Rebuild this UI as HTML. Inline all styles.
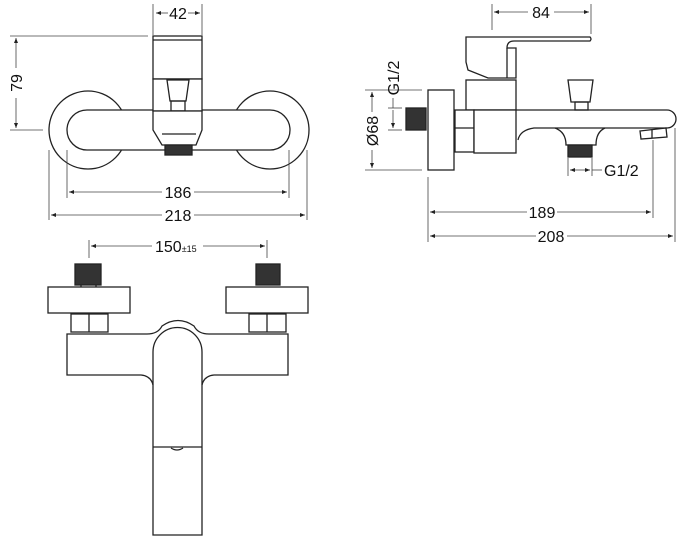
<!DOCTYPE html>
<html><head><style>
html,body{margin:0;padding:0;background:#fff;width:680px;height:543px;overflow:hidden}
svg{display:block}
text{font-family:"Liberation Sans",sans-serif;fill:#111}
</style></head><body>
<svg width="680" height="543" viewBox="0 0 680 543" xmlns="http://www.w3.org/2000/svg">
<defs>
<marker id="a" viewBox="0 0 10 10" refX="10" refY="5" markerWidth="7" markerHeight="5" orient="auto-start-reverse" markerUnits="userSpaceOnUse"><path d="M0,1 L10,5 L0,9 Z" fill="#222"/></marker>
</defs>
<g fill="none" stroke="#222" stroke-width="1.3">
<!-- ===== top-left view ===== -->
<circle cx="88" cy="130" r="39"/>
<circle cx="270" cy="130" r="39"/>
<rect x="67" y="110" width="223" height="40" rx="20" fill="#fff"/>
<rect x="153" y="36" width="49" height="43" fill="#fff"/>
<line x1="153" y1="40" x2="202" y2="40"/>
<rect x="153" y="79" width="49" height="32" fill="#fff"/>
<path d="M167,80 L189,80 L186,101 L170,101 Z"/>
<rect x="171" y="101" width="14" height="10"/>
<path d="M153,111 L202,111 L202,130 L196,145 L162,145 L153,130 Z" fill="#fff"/>
<path d="M162,134 L196,134"/>
<rect x="165" y="145" width="27" height="10" fill="#333"/>
</g>
<g stroke="#444" stroke-width="0.8" fill="none">
<line x1="153" y1="4" x2="153" y2="35"/><line x1="202" y1="4" x2="202" y2="35"/>
<line x1="156" y1="13" x2="168" y2="13" marker-start="url(#a)"/><line x1="188" y1="13" x2="200" y2="13" marker-end="url(#a)"/>
<line x1="10" y1="36" x2="148" y2="36"/><line x1="10" y1="130" x2="43" y2="130"/>
<line x1="16" y1="38" x2="16" y2="68" marker-start="url(#a)"/><line x1="16" y1="98" x2="16" y2="128" marker-end="url(#a)"/>
<line x1="67" y1="150" x2="67" y2="198"/><line x1="289" y1="150" x2="289" y2="198"/>
<line x1="69" y1="192" x2="162" y2="192" marker-start="url(#a)"/><line x1="194" y1="192" x2="287" y2="192" marker-end="url(#a)"/>
<line x1="49" y1="150" x2="49" y2="220"/><line x1="307" y1="150" x2="307" y2="220"/>
<line x1="51" y1="215" x2="162" y2="215" marker-start="url(#a)"/><line x1="194" y1="215" x2="305" y2="215" marker-end="url(#a)"/>
</g>
<text x="178" y="19" font-size="16" text-anchor="middle">42</text>
<text x="0" y="0" font-size="16" text-anchor="middle" transform="translate(22,83) rotate(-90)">79</text>
<text x="178" y="198" font-size="16" text-anchor="middle">186</text>
<text x="178" y="221" font-size="16" text-anchor="middle">218</text>

<!-- ===== right side view ===== -->
<g fill="none" stroke="#222" stroke-width="1.3">
<path d="M466,37 L590,37 Q592,39 590,41 L514,41 Q507,41 507,48 L516,48 L516,78 L488,78 L468,70 L466,62 Z" fill="#fff"/>
<line x1="507" y1="48" x2="507" y2="78"/>
<rect x="466" y="80" width="50" height="30" fill="#fff"/>
<rect x="428" y="90" width="26" height="80" fill="#fff"/>
<rect x="406" y="108" width="20" height="22" fill="#333"/>
<rect x="455" y="110" width="19" height="42" fill="#fff"/>
<line x1="455" y1="128" x2="474" y2="128"/>
<rect x="474" y="110" width="42" height="43" fill="#fff"/>
<path d="M516,110 L667,110 A9,9 0 0 1 667,128 L534,128 Q520,130 518,140"/>
<path d="M555,128 Q566,132 566,145 L596,145 Q596,132 605,128"/>
<path d="M568,80 L593,80 L590,102 L571,102 Z"/>
<rect x="575" y="102" width="13" height="8"/>
<rect x="568" y="145" width="24" height="12" fill="#333"/>
<path d="M640,131 L666,128 L667,137 L641,139 Z"/>
<line x1="652" y1="130" x2="652" y2="138"/>
</g>
<g stroke="#444" stroke-width="0.8" fill="none">
<line x1="492" y1="4" x2="492" y2="30"/><line x1="591" y1="4" x2="591" y2="34"/>
<line x1="494" y1="12" x2="528" y2="12" marker-start="url(#a)"/><line x1="554" y1="12" x2="589" y2="12" marker-end="url(#a)"/>
<line x1="365" y1="90" x2="422" y2="90"/><line x1="365" y1="170" x2="422" y2="170"/>
<line x1="372" y1="92" x2="372" y2="112" marker-start="url(#a)"/><line x1="372" y1="150" x2="372" y2="168" marker-end="url(#a)"/>
<line x1="388" y1="108" x2="402" y2="108"/><line x1="388" y1="130" x2="402" y2="130"/>
<line x1="393" y1="98" x2="393" y2="108"/><line x1="393" y1="110" x2="393" y2="128" marker-end="url(#a)"/>
<line x1="568" y1="158" x2="568" y2="176"/><line x1="592" y1="158" x2="592" y2="176"/>
<line x1="570" y1="170" x2="580" y2="170" marker-start="url(#a)"/><line x1="580" y1="170" x2="590" y2="170" marker-end="url(#a)"/><line x1="592" y1="170" x2="602" y2="170"/>
<line x1="428" y1="177" x2="428" y2="242"/><line x1="653" y1="140" x2="653" y2="218"/><line x1="675" y1="128" x2="675" y2="242"/>
<line x1="430" y1="212" x2="527" y2="212" marker-start="url(#a)"/><line x1="557" y1="212" x2="651" y2="212" marker-end="url(#a)"/>
<line x1="430" y1="236" x2="536" y2="236" marker-start="url(#a)"/><line x1="567" y1="236" x2="673" y2="236" marker-end="url(#a)"/>
</g>
<text x="541" y="18" font-size="16" text-anchor="middle">84</text>
<text x="0" y="0" font-size="16" text-anchor="middle" transform="translate(378,131) rotate(-90)">Ø68</text>
<text x="0" y="0" font-size="16" text-anchor="middle" transform="translate(399,78) rotate(-90)">G1/2</text>
<text x="604" y="176" font-size="16">G1/2</text>
<text x="542" y="218" font-size="16" text-anchor="middle">189</text>
<text x="551" y="242" font-size="16" text-anchor="middle">208</text>

<!-- ===== bottom front view ===== -->
<g fill="none" stroke="#222" stroke-width="1.3">
<rect x="75" y="264" width="26" height="21" fill="#333"/>
<rect x="256" y="264" width="24" height="21" fill="#333"/>
<line x1="81" y1="285" x2="81" y2="287"/><line x1="96" y1="285" x2="96" y2="287"/>
<rect x="48" y="287" width="82" height="26" fill="#fff"/>
<rect x="226" y="287" width="82" height="26" fill="#fff"/>
<rect x="71" y="314" width="37" height="18" fill="#fff"/><line x1="89" y1="314" x2="89" y2="332"/>
<rect x="249" y="314" width="37" height="18" fill="#fff"/><line x1="267" y1="314" x2="267" y2="332"/>
<path d="M67,334 L147,334 Q158,334 162,326 Q178,315 194,326 Q198,334 209,334 L288,334 L288,375 L214,375 Q204,376 202,385 L202,535 L153,535 L153,385 Q151,376 141,375 L67,375 Z" fill="#fff"/>
<path d="M153,385 L153,352 A24.5,24.5 0 0 1 202,352 L202,385"/>
<line x1="153" y1="447" x2="202" y2="447"/>
<path d="M171,448 Q177,452 183,448"/>
</g>
<g stroke="#444" stroke-width="0.8" fill="none">
<line x1="89" y1="240" x2="89" y2="258"/><line x1="267" y1="240" x2="267" y2="258"/>
<line x1="91" y1="246" x2="152" y2="246" marker-start="url(#a)"/><line x1="203" y1="246" x2="265" y2="246" marker-end="url(#a)"/>
</g>
<text x="155" y="252" font-size="16">150<tspan font-size="9">±15</tspan></text>
</svg>
</body></html>
